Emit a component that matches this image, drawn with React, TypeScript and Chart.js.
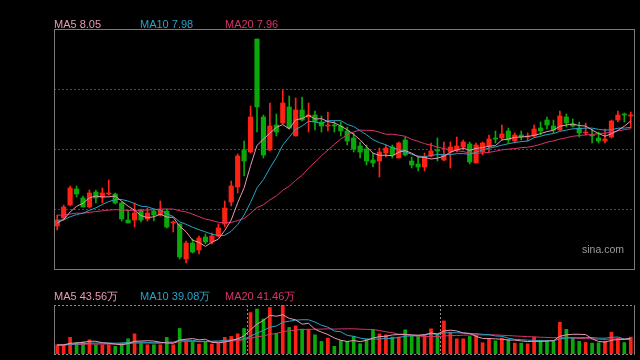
import React, { useEffect, useRef } from "react";
import { Chart, registerables } from "chart.js";

Chart.register(...registerables);

// ---------- data ----------
const days: string[] = Array.from({ length: 90 }, (_, i) => String(i + 1));

const opens = [
  7.00, 7.08, 7.21, 7.37, 7.28, 7.19, 7.34, 7.29, 7.32, 7.32,
  7.23, 7.06, 7.06, 7.15, 7.07, 7.15, 7.11, 7.15, 7.03, 7.02,
  6.67, 6.83, 6.76, 6.89, 6.84, 6.90, 7.02, 7.24, 7.39, 7.76,
  7.74, 8.87, 8.09, 7.76, 8.01, 8.03, 8.19, 7.90, 8.16, 8.09,
  8.11, 8.04, 8.00, 8.01, 8.00, 7.95, 7.88, 7.80, 7.77, 7.66,
  7.65, 7.73, 7.79, 7.68, 7.86, 7.65, 7.62, 7.59, 7.70, 7.76,
  7.66, 7.74, 7.76, 7.79, 7.82, 7.63, 7.74, 7.80, 7.88, 7.88,
  7.95, 7.85, 7.91, 7.89, 7.90, 7.98, 8.06, 8.00, 7.96, 8.09,
  8.02, 7.98, 7.93, 7.91, 7.88, 7.85, 7.89, 8.06, 8.12, 8.10,
];
const highs = [
  7.11, 7.21, 7.40, 7.40, 7.30, 7.36, 7.36, 7.38, 7.46, 7.33,
  7.24, 7.16, 7.23, 7.17, 7.18, 7.17, 7.25, 7.17, 7.05, 7.02,
  6.85, 6.87, 6.90, 6.92, 6.93, 7.02, 7.25, 7.45, 7.72, 7.85,
  8.20, 8.87, 8.11, 8.23, 8.12, 8.36, 8.30, 8.28, 8.29, 8.23,
  8.15, 8.10, 8.14, 8.05, 8.04, 7.99, 7.93, 7.84, 7.81, 7.73,
  7.78, 7.81, 7.81, 7.84, 7.89, 7.69, 7.69, 7.73, 7.83, 7.88,
  7.84, 7.84, 7.89, 7.86, 7.84, 7.83, 7.84, 7.91, 7.95, 8.01,
  7.98, 7.93, 7.95, 7.93, 8.01, 8.04, 8.09, 8.06, 8.15, 8.12,
  8.07, 8.04, 8.03, 7.97, 7.94, 7.97, 8.06, 8.15, 8.13, 8.14,
];
const lows = [
  6.96, 7.06, 7.20, 7.29, 7.19, 7.18, 7.23, 7.23, 7.31, 7.22,
  7.05, 7.03, 6.99, 7.04, 7.05, 7.05, 7.10, 6.98, 6.94, 6.67,
  6.63, 6.73, 6.72, 6.82, 6.82, 6.89, 6.99, 7.20, 7.33, 7.50,
  7.73, 7.94, 7.68, 7.75, 7.90, 8.02, 7.97, 7.90, 8.05, 7.94,
  7.96, 7.94, 7.95, 7.94, 7.90, 7.81, 7.74, 7.68, 7.61, 7.59,
  7.49, 7.69, 7.68, 7.68, 7.70, 7.58, 7.55, 7.55, 7.69, 7.65,
  7.65, 7.58, 7.74, 7.76, 7.62, 7.63, 7.71, 7.74, 7.83, 7.86,
  7.83, 7.83, 7.86, 7.85, 7.89, 7.91, 7.97, 7.93, 7.95, 7.99,
  7.99, 7.89, 7.91, 7.83, 7.83, 7.83, 7.88, 8.04, 8.04, 7.98,
];
const closes = [
  7.06, 7.19, 7.38, 7.32, 7.19, 7.33, 7.28, 7.33, 7.33, 7.23,
  7.07, 7.03, 7.13, 7.06, 7.13, 7.11, 7.16, 6.99, 7.04, 6.69,
  6.83, 6.74, 6.88, 6.84, 6.90, 6.98, 7.18, 7.40, 7.70, 7.65,
  8.09, 8.19, 7.71, 8.00, 7.94, 8.23, 7.98, 8.16, 8.06, 8.11,
  8.04, 8.00, 8.01, 8.00, 7.95, 7.85, 7.77, 7.74, 7.65, 7.63,
  7.74, 7.78, 7.71, 7.83, 7.71, 7.61, 7.59, 7.69, 7.75, 7.75,
  7.71, 7.79, 7.80, 7.84, 7.64, 7.81, 7.83, 7.87, 7.87, 7.92,
  7.86, 7.91, 7.89, 7.90, 7.97, 7.95, 8.01, 7.96, 8.10, 8.03,
  8.00, 7.93, 7.94, 7.90, 7.85, 7.87, 8.05, 8.11, 8.11, 8.11,
];
// closes before the visible window, estimated from where the MA lines start
const priorCloses = [
  7.14, 7.18, 7.16, 7.20, 7.15, 7.13, 7.17, 7.19, 7.14, 7.14,
  7.12, 7.08, 7.10, 7.04, 7.06, 7.02, 7.00, 7.04, 7.03,
];

// volume in 万 (10k shares)
const volumes = [
  25.5, 24.7, 45.8, 32.1, 33.0, 39.2, 25.5, 25.5, 25.5, 21.1,
  30.1, 41.9, 55.6, 30.1, 25.5, 25.5, 25.5, 45.8, 25.5, 70.4,
  36.4, 34.8, 27.4, 34.8, 27.4, 30.1, 45.8, 48.5, 55.6, 70.4,
  114.3, 124.1, 96.7, 128.0, 57.5, 135.1, 73.2, 77.5, 68.5, 68.5,
  52.9, 34.8, 43.8, 21.1, 37.5, 34.8, 48.5, 28.2, 41.1, 66.6,
  55.6, 52.9, 46.6, 46.6, 66.6, 51.2, 48.5, 52.9, 69.3, 54.8,
  91.2, 60.3, 41.9, 41.9, 48.5, 51.2, 31.0, 41.1, 36.4, 43.8,
  40.0, 30.0, 30.0, 28.0, 47.0, 38.0, 35.0, 36.0, 87.7, 68.0,
  45.0, 35.0, 32.0, 30.0, 31.0, 35.6, 60.3, 43.8, 31.5, 46.6,
];
const priorVolumes = [
  24, 27, 23, 26, 25, 28, 22, 26, 25, 24, 27, 23, 25, 26, 24, 22, 25, 27, 24,
];

const priceLegend = ["MA5 8.05", "MA10 7.98", "MA20 7.96"];
const volumeLegend = ["MA5 43.56万", "MA10 39.08万", "MA20 41.46万"];
const priceGridLines = [7.17, 7.77, 8.37];
const priceMin = 6.57;
const priceMax = 8.97;
const monthStarts = [30, 60];

// ---------- styles ----------
const RED = "#ff2214";
const GREEN = "#0aa80a";
const MA_COLORS = ["#e89ab5", "#27a3c6", "#d8336e"];
const FONT = '"Liberation Sans", Arial, sans-serif';

function movingAverage(values: number[], prior: number[], n: number): number[] {
  const all = [...prior, ...values];
  return values.map((_, i) => {
    const end = prior.length + i + 1;
    const start = Math.max(0, end - n);
    const slice = all.slice(start, end);
    return slice.reduce((a, b) => a + b, 0) / slice.length;
  });
}

const priceFrame = {
  id: "priceFrame",
  afterDatasetsDraw(chart: any) {
    const { ctx, chartArea: a } = chart;
    ctx.save();
    ctx.strokeStyle = "#7a7a7a";
    ctx.lineWidth = 1;
    ctx.strokeRect(a.left + 0.5, a.top + 0.5, a.right - a.left, a.bottom - a.top);
    ctx.restore();
  },
};

const volumeFrame = {
  id: "volumeFrame",
  afterDatasetsDraw(chart: any) {
    const { ctx, chartArea: a } = chart;
    ctx.save();
    ctx.lineWidth = 1;
    ctx.strokeStyle = "#7a7a7a";
    ctx.beginPath();
    ctx.moveTo(a.left + 0.5, a.top);
    ctx.lineTo(a.left + 0.5, a.bottom + 1);
    ctx.moveTo(a.right + 0.5, a.top);
    ctx.lineTo(a.right + 0.5, a.bottom + 1);
    ctx.stroke();
    ctx.strokeStyle = "#8a8a8a";
    ctx.setLineDash([2, 2]);
    ctx.beginPath();
    ctx.moveTo(a.left, a.top + 0.5);
    ctx.lineTo(a.right, a.top + 0.5);
    ctx.moveTo(a.left, a.bottom + 0.5);
    ctx.lineTo(a.right, a.bottom + 0.5);
    ctx.stroke();
    ctx.restore();
  },
};

export default function App() {
  const priceRef = useRef<HTMLCanvasElement>(null);
  const volRef = useRef<HTMLCanvasElement>(null);

  useEffect(() => {
    const colors = closes.map((c, i) => (c >= opens[i] ? RED : GREEN));
    const ma = [5, 10, 20].map((n) => movingAverage(closes, priorCloses, n));
    const vma = [5, 10, 20].map((n) => movingAverage(volumes, priorVolumes, n));

    const lineDs = (data: number[], k: number) => ({
      type: "line" as const,
      label: `MA${[5, 10, 20][k]}`,
      data,
      borderColor: MA_COLORS[k],
      borderWidth: 1,
      pointRadius: 0,
      tension: 0,
      fill: false,
      order: k,
    });

    const priceChart = new Chart(priceRef.current!, {
      type: "bar",
      data: {
        labels: days,
        datasets: [
          lineDs(ma[0], 0),
          lineDs(ma[1], 1),
          lineDs(ma[2], 2),
          {
            type: "bar",
            label: "body",
            data: opens.map((o, i) => [o, closes[i]]),
            backgroundColor: colors,
            barThickness: 4.5,
            minBarLength: 1,
            grouped: false,
            order: 5,
          } as any,
          {
            type: "bar",
            label: "wick",
            data: lows.map((l, i) => [l, highs[i]]),
            backgroundColor: colors,
            barThickness: 1,
            grouped: false,
            order: 6,
          } as any,
        ],
      },
      options: {
        responsive: false,
        animation: false,
        events: [],
        layout: { padding: { left: 54, right: 6, top: 29, bottom: 11 } },
        plugins: { legend: { display: false }, tooltip: { enabled: false } },
        scales: {
          x: { type: "category", display: false, offset: true },
          y: {
            min: priceMin,
            max: priceMax,
            ticks: { display: false },
            grid: { color: "#4d4d4d", drawTicks: false, lineWidth: 1 },
            border: { display: false, dash: [2, 2] },
            afterBuildTicks: (s: any) => {
              s.ticks = priceGridLines.map((v) => ({ value: v }));
            },
            afterFit: (s: any) => {
              s.width = 0;
            },
          },
        },
      } as any,
      plugins: [priceFrame],
    });

    const volChart = new Chart(volRef.current!, {
      type: "bar",
      data: {
        labels: days,
        datasets: [
          lineDs(vma[0], 0),
          lineDs(vma[1], 1),
          lineDs(vma[2], 2),
          {
            type: "bar",
            label: "volume",
            data: volumes,
            backgroundColor: colors,
            barThickness: 3,
            grouped: false,
            order: 5,
          } as any,
        ],
      },
      options: {
        responsive: false,
        animation: false,
        events: [],
        layout: { padding: { left: 54, right: 6, top: 25, bottom: 6 } },
        plugins: { legend: { display: false }, tooltip: { enabled: false } },
        scales: {
          x: {
            type: "category",
            display: true,
            offset: true,
            ticks: { display: false, autoSkip: false },
            grid: {
              offset: true,
              drawTicks: false,
              color: (c: any) => (monthStarts.includes(c.index) ? "#8a8a8a" : "rgba(0,0,0,0)"),
            },
            border: { display: false, dash: [2, 2] },
            afterFit: (s: any) => {
              s.height = 0;
            },
          },
          y: { display: false, min: 0, max: Math.max(...volumes) },
        },
      } as any,
      plugins: [volumeFrame],
    });

    return () => {
      priceChart.destroy();
      volChart.destroy();
    };
  }, []);

  const labelStyle = (left: number, top: number, color: string): React.CSSProperties => ({
    position: "absolute",
    left,
    top,
    color,
    font: `11px ${FONT}`,
    lineHeight: "11px",
    whiteSpace: "nowrap",
  });
  const xs = [54, 140, 225];

  return (
    <div
      style={{
        position: "absolute",
        left: 0,
        top: 0,
        width: 640,
        height: 360,
        background: "#000",
        overflow: "hidden",
      }}
    >
      <canvas ref={priceRef} width={640} height={280} style={{ position: "absolute", left: 0, top: 0 }} />
      <canvas ref={volRef} width={640} height={80} style={{ position: "absolute", left: 0, top: 280 }} />
      {priceLegend.map((t, k) => (
        <div key={"p" + k} style={labelStyle(xs[k], 19, MA_COLORS[k])}>
          {t}
        </div>
      ))}
      {volumeLegend.map((t, k) => (
        <div key={"v" + k} style={labelStyle(xs[k], 291, MA_COLORS[k])}>
          {t}
        </div>
      ))}
      <div
        style={{
          position: "absolute",
          left: 582,
          top: 244,
          color: "#9a9a9a",
          font: `10.5px ${FONT}`,
          lineHeight: "11px",
          whiteSpace: "nowrap",
        }}
      >
        sina.com
      </div>
    </div>
  );
}
